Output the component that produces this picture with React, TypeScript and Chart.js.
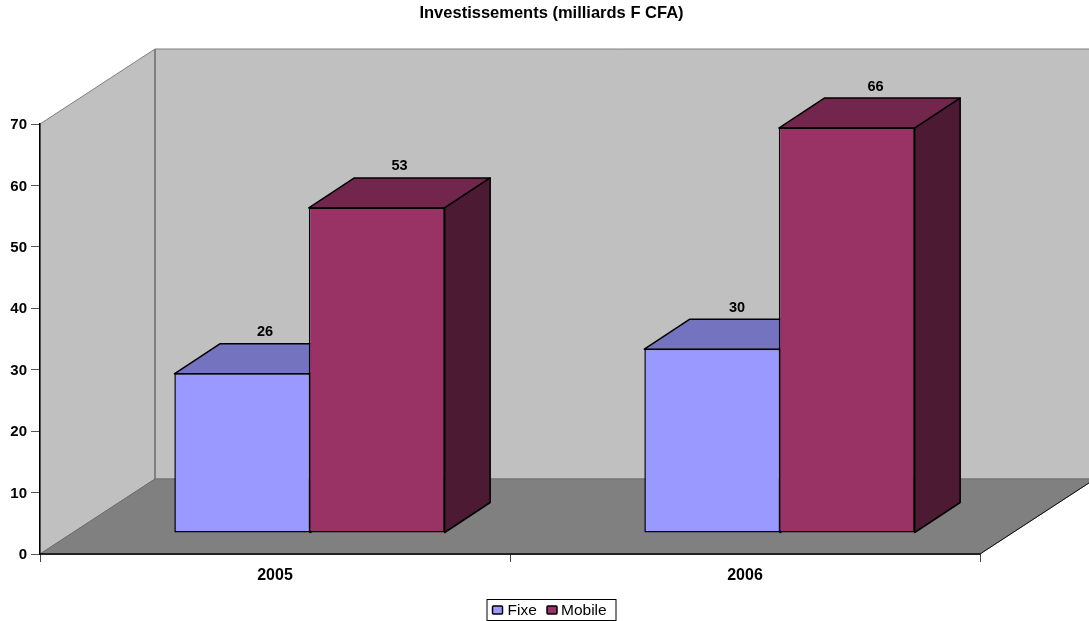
import React, { useEffect, useRef } from "react";
import { Chart, registerables } from "chart.js";

Chart.register(...registerables);

const categories = ["2005", "2006"];
const fixeValues = [26, 30];
const mobileValues = [53, 66];
const yTicks = [0, 10, 20, 30, 40, 50, 60, 70];
const chartTitle = "Investissements (milliards F CFA)";
const seriesNames = ["Fixe", "Mobile"];
const fronts = ["#9999FF", "#993366"];
const tops = ["#7373BF", "#73264D"];
const sides = ["#4D4D80", "#4D1A33"];
const labelNudgeX = [[0, 2], [0, 6]];

const WALL_DX = 115;
const WALL_DY = 75;
const SHIFT_X = 34.5;
const SHIFT_Y = 21;
const BAR_DX = 45.5;
const BAR_DY = 30;

function poly(ctx: any, pts: number[][], fill: string, stroke: string, lw: number) {
  ctx.beginPath();
  pts.forEach((p, i) => (i ? ctx.lineTo(p[0], p[1]) : ctx.moveTo(p[0], p[1])));
  ctx.closePath();
  ctx.fillStyle = fill;
  ctx.fill();
  if (lw > 0) {
    ctx.strokeStyle = stroke;
    ctx.lineWidth = lw;
    ctx.stroke();
  }
}

const walls3d = {
  id: "walls3d",
  afterLayout(chart: any) {
    chart.titleBlock.left = 14;
  },
  beforeDraw(chart: any) {
    const { ctx, chartArea: a } = chart;
    ctx.save();
    ctx.fillStyle = "#fff";
    ctx.fillRect(0, 0, chart.width, chart.height);
    const bx = a.left + WALL_DX;
    const by = a.bottom - WALL_DY;
    const ty = a.top - WALL_DY;
    const rx = a.right + WALL_DX;
    poly(ctx, [[bx, ty], [rx + 5, ty], [rx + 5, by], [bx, by]], "#C0C0C0", "#808080", 1);
    poly(ctx, [[a.left, a.top], [bx, ty], [bx, by], [a.left, a.bottom]], "#C0C0C0", "#808080", 1);
    ctx.beginPath();
    ctx.moveTo(bx, ty);
    ctx.lineTo(bx, by);
    ctx.strokeStyle = "#808080";
    ctx.lineWidth = 2;
    ctx.stroke();
    poly(ctx, [[a.left, a.bottom], [bx, by], [rx, by], [a.right, a.bottom]], "#808080", "#6E6E6E", 1);
    ctx.beginPath();
    ctx.moveTo(a.right, a.bottom);
    ctx.lineTo(rx, by);
    ctx.strokeStyle = "#111";
    ctx.lineWidth = 1;
    ctx.stroke();
    ctx.restore();
  },
  beforeDatasetsDraw(chart: any) {
    const { ctx } = chart;
    ctx.save();
    ctx.lineJoin = "round";
    chart.data.datasets.forEach((_: any, di: number) => {
      chart.getDatasetMeta(di).data.forEach((el: any) => {
        const p = el.getProps(["x", "y", "base", "width"], true);
        const l = p.x - p.width / 2 + SHIFT_X;
        const r = p.x + p.width / 2 + SHIFT_X;
        const t = p.y - SHIFT_Y + 0.5;
        const b = p.base - SHIFT_Y;
        poly(ctx, [[l, t], [l + BAR_DX, t - BAR_DY], [r + BAR_DX, t - BAR_DY], [r, t]], tops[di], "#000", 1.5);
        poly(ctx, [[r, t], [r + BAR_DX, t - BAR_DY], [r + BAR_DX, b - BAR_DY], [r, b]], sides[di], "#000", 1.5);
      });
    });
    ctx.restore();
  },
  beforeDatasetDraw(chart: any) {
    chart.ctx.save();
    chart.ctx.translate(SHIFT_X, -SHIFT_Y);
  },
  afterDatasetDraw(chart: any) {
    chart.ctx.restore();
  },
  afterDatasetsDraw(chart: any) {
    const { ctx } = chart;
    ctx.save();
    ctx.font = "bold 14.5px 'Liberation Sans'";
    ctx.fillStyle = "#000";
    ctx.textAlign = "center";
    ctx.textBaseline = "middle";
    chart.data.datasets.forEach((ds: any, di: number) => {
      chart.getDatasetMeta(di).data.forEach((el: any, i: number) => {
        const p = el.getProps(["x", "y"], true);
        ctx.fillText(
          String(ds.data[i]),
          p.x + SHIFT_X + BAR_DX / 2 + labelNudgeX[di][i],
          p.y - SHIFT_Y - BAR_DY - 11
        );
      });
    });
    ctx.restore();
  },
  afterDraw(chart: any) {
    const { ctx } = chart;
    ctx.save();
    ctx.strokeStyle = "#000";
    ctx.lineWidth = 1;
    ctx.strokeRect(487, 599.5, 129, 21);
    ctx.font = "15.5px 'Liberation Sans'";
    ctx.textBaseline = "middle";
    ctx.textAlign = "left";
    const markerX = [492.5, 547];
    const textX = [507.5, 561];
    chart.data.datasets.forEach((ds: any, di: number) => {
      ctx.fillStyle = fronts[di];
      ctx.lineWidth = 1.5;
      ctx.beginPath();
      ctx.roundRect(markerX[di], 606, 10, 8, 1);
      ctx.fill();
      ctx.stroke();
      ctx.fillStyle = "#000";
      ctx.fillText(ds.label, textX[di], 610.5);
    });
    ctx.restore();
  },
};

export default function App() {
  const ref = useRef<HTMLCanvasElement>(null);
  useEffect(() => {
    const chart = new Chart(ref.current!, {
      type: "bar",
      data: {
        labels: categories,
        datasets: [fixeValues, mobileValues].map((data, i) => ({
          label: seriesNames[i],
          data,
          backgroundColor: fronts[i],
          borderColor: "#000",
          borderWidth: 1.5,
          borderSkipped: false,
          clip: false,
          categoryPercentage: 0.5723,
          barPercentage: 1.01,
        })),
      } as any,
      options: {
        animation: false,
        responsive: false,
        layout: { padding: 0 },
        plugins: {
          legend: { display: false },
          tooltip: { enabled: false },
          title: {
            display: true,
            text: chartTitle,
            color: "#000",
            font: { size: 16.5, weight: "bold", family: "'Liberation Sans'", lineHeight: 1.2 },
            padding: { top: 3.5, bottom: 100.7 },
          },
        },
        scales: {
          x: {
            grid: { drawOnChartArea: false, drawTicks: true, tickLength: 8, color: "#444" },
            border: { color: "#222", width: 2 },
            ticks: { color: "#000", font: { size: 16, weight: "bold", family: "'Liberation Sans'" }, padding: 4, maxRotation: 0 },
            afterFit(s: any) {
              s.height = 67;
            },
          },
          y: {
            min: 0,
            max: 70,
            afterBuildTicks(s: any) {
              s.ticks = yTicks.map((value) => ({ value }));
            },
            grid: { drawOnChartArea: false, drawTicks: true, tickLength: 9, color: "#555" },
            border: { color: "#000", width: 1.5 },
            ticks: { color: "#000", font: { size: 15, weight: "bold", family: "'Liberation Sans'" }, padding: 4, labelOffset: 1 },
            afterFit(s: any) {
              s.width = 40;
            },
          },
          spacer: {
            position: "right",
            min: 0,
            max: 1,
            grid: { display: false },
            border: { display: false },
            ticks: { display: false },
            afterFit(s: any) {
              s.width = 109;
            },
          },
        },
      } as any,
      plugins: [walls3d],
    });
    return () => chart.destroy();
  }, []);
  return (
    <div style={{ position: "absolute", left: 0, top: 0, width: 1089, height: 621 }}>
      <canvas ref={ref} width={1089} height={621} style={{ display: "block" }} />
    </div>
  );
}
